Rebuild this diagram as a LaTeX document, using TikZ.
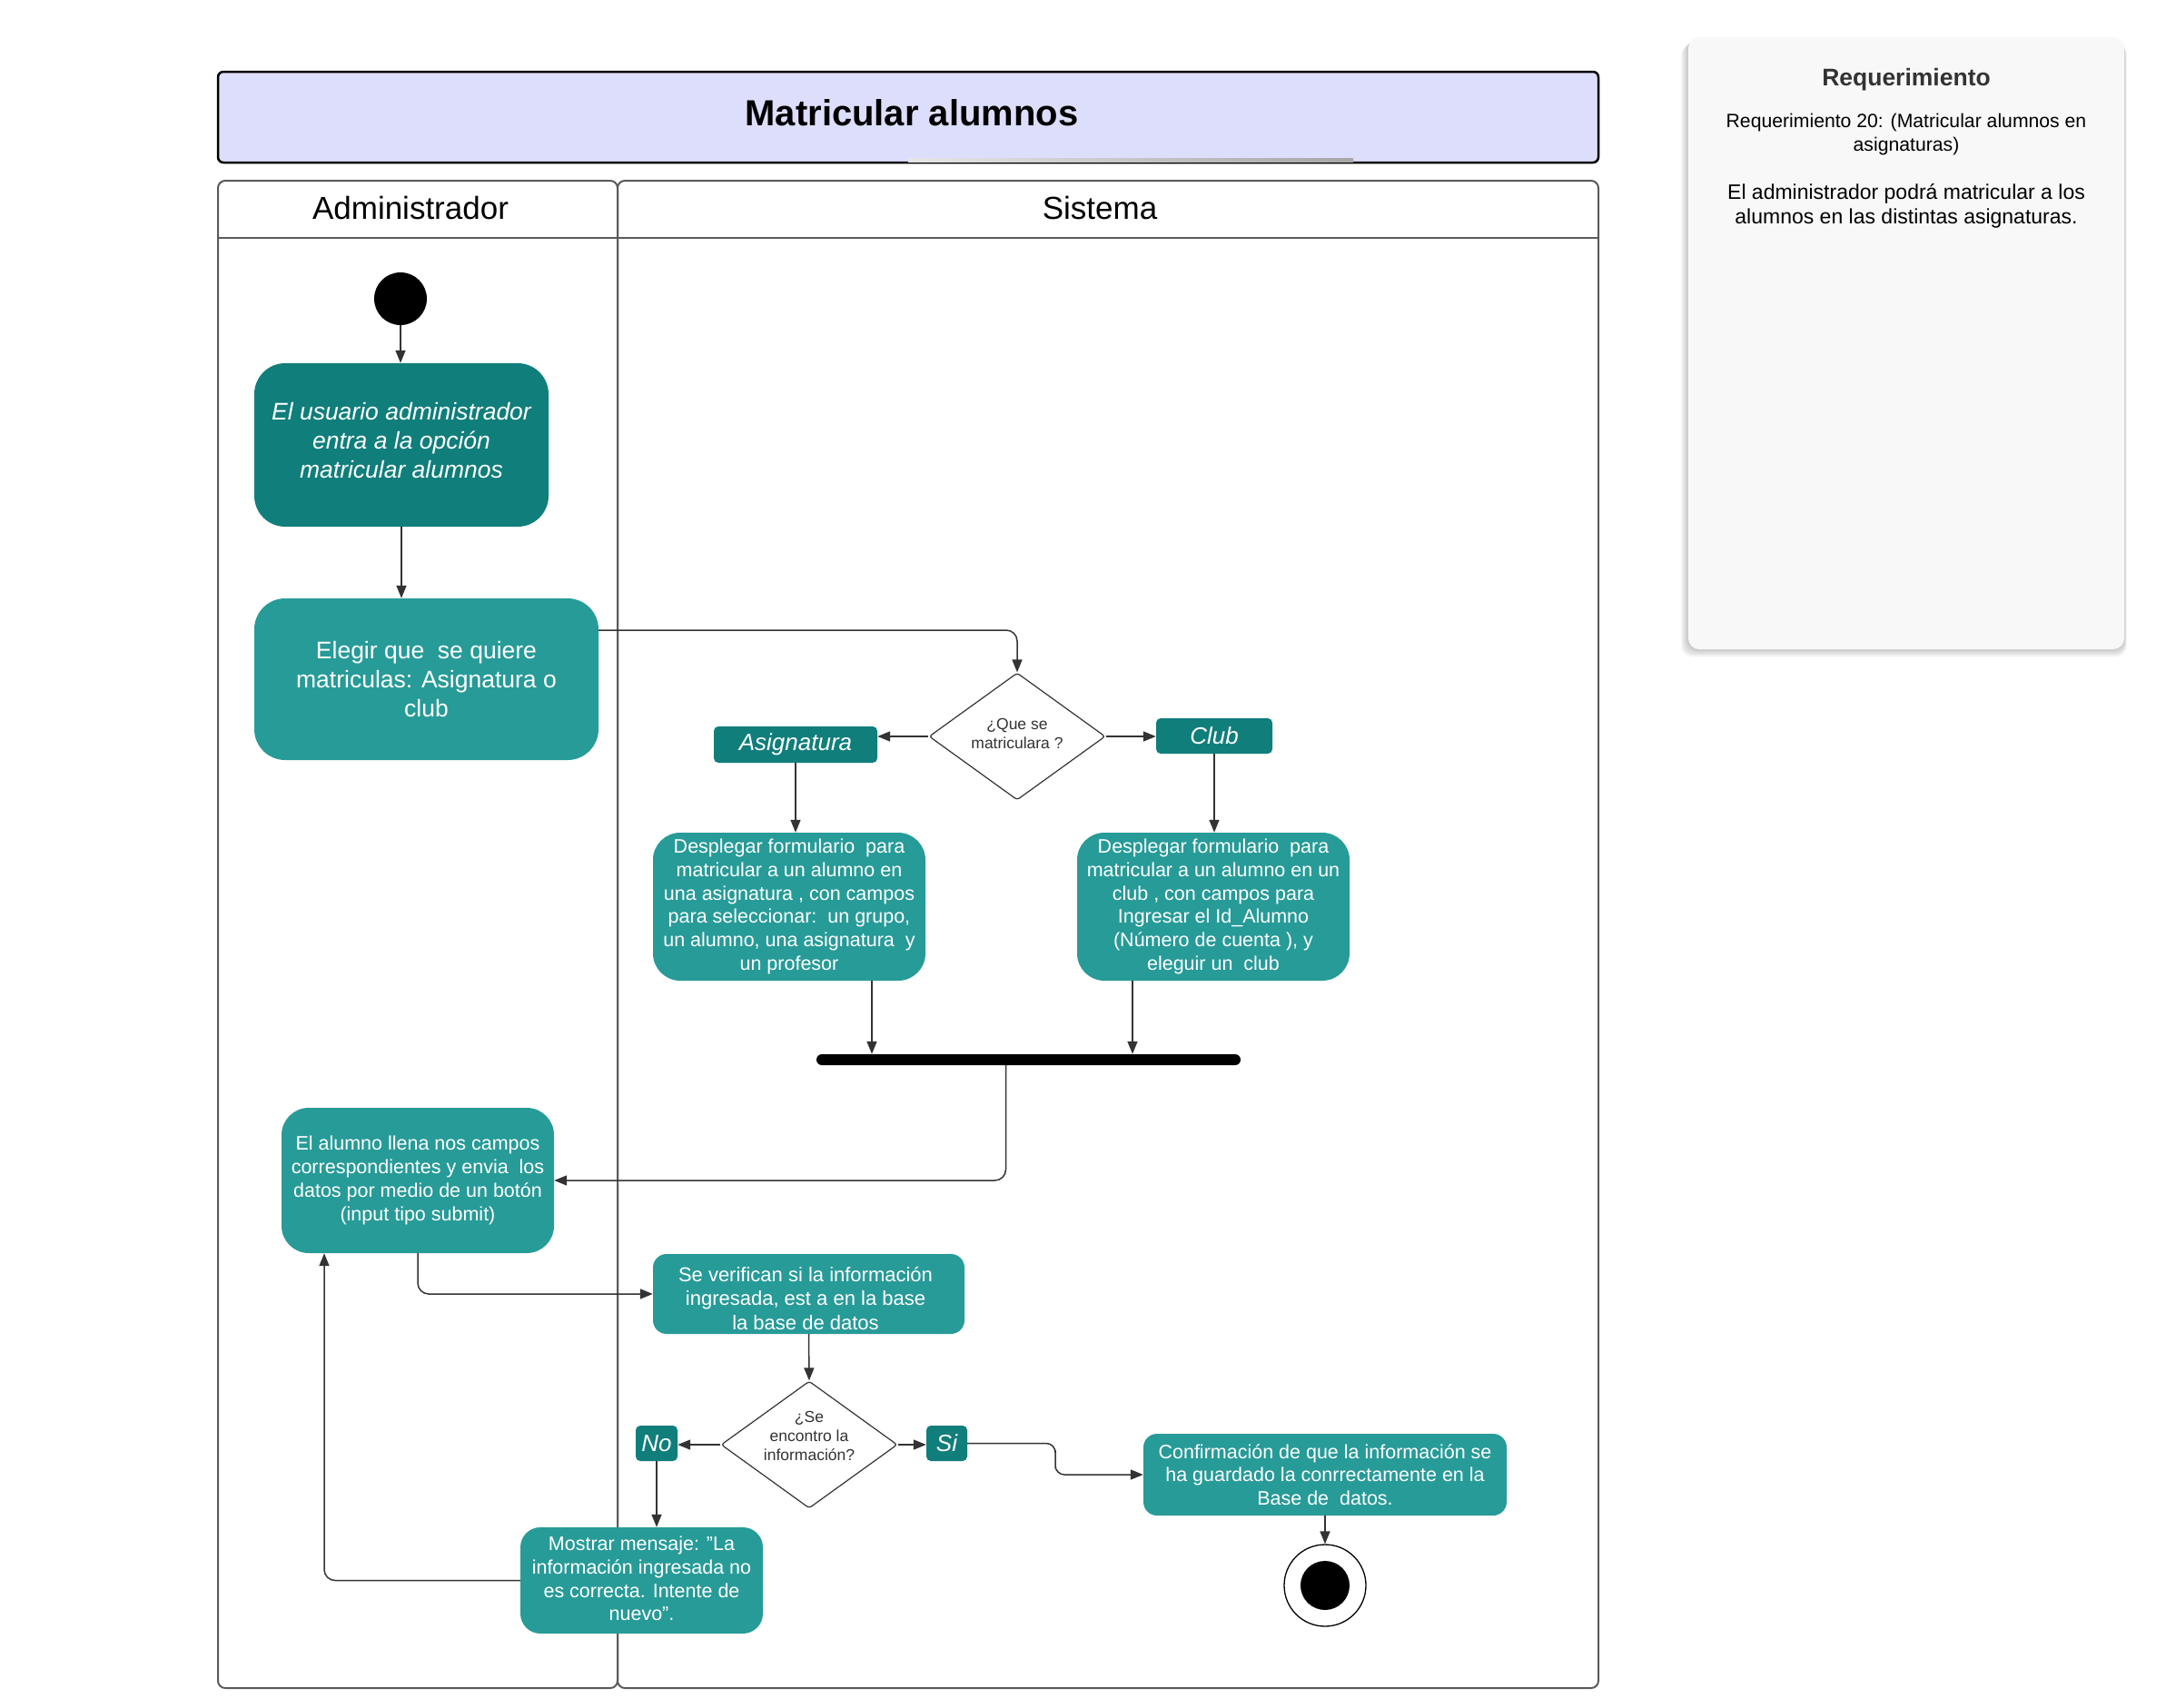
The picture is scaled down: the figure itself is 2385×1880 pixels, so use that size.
\documentclass[tikz,border=0pt]{standalone}
\usepackage{fontspec}
\setmainfont{Liberation Sans}
\usetikzlibrary{shapes.geometric,arrows.meta,calc}

\definecolor{tealdark}{RGB}{16,126,123}
\definecolor{teallight}{RGB}{39,155,152}
\definecolor{lavender}{RGB}{221,222,252}
\definecolor{wire}{RGB}{51,51,51}
\definecolor{lanegray}{RGB}{90,90,90}
\definecolor{panelbg}{RGB}{248,248,248}

\newcommand\pxfont[2]{\fontsize{#1}{#2}\selectfont}

\begin{document}
\begin{tikzpicture}[x=1pt,y=-1pt,
  actdark/.style={fill=tealdark, text=white, align=center, inner sep=0pt},
  actlight/.style={fill=teallight, text=white, align=center, inner sep=0pt},
  boxtext/.style={text=white, align=center, inner sep=0pt},
  smalltext/.style={font=\pxfont{21.5}{25.8}},
  tag/.style={fill=tealdark, text=white, rounded corners=5pt, inner sep=0pt,
    font=\pxfont{26}{31}\itshape},
  decision/.style={diamond, draw=wire, line width=1.2pt, fill=white,
    minimum width=194pt, minimum height=140pt, inner sep=0pt, rounded corners=3pt},
  decisiontext/.style={align=center, text=wire, font=\pxfont{17.5}{21}},
  arr/.style={draw=wire, line width=1.5pt, -{Triangle[length=14pt,width=11pt]}},
  lane/.style={draw=lanegray, line width=2pt, rounded corners=8pt},
]
\useasboundingbox (0,0) rectangle (2385,1880);
\fill[white] (0,0) rectangle (2385,1880);

% ---------- title bar ----------
\node[draw=black, line width=2.5pt, fill=lavender, rounded corners=6pt,
  minimum width=1520pt, minimum height=100pt, inner sep=0pt] (title) at (1000,129) {};
\node[font=\pxfont{40}{48}\bfseries] (titletext) at (1004,124) {Matricular alumnos};
\shade[left color=gray!20, right color=gray!70] (1000,174) rectangle (1490,178);

% ---------- swimlanes ----------
\draw[lane] (240,199) rectangle (680,1859);
\draw[lane] (680,199) rectangle (1760,1859);
\draw[draw=lanegray, line width=1.5pt] (240,262) -- (1760,262);
\node[font=\pxfont{35}{42}] (hadmin) at (452,229) {Administrador};
\node[font=\pxfont{35}{42}] (hsys) at (1211,229) {Sistema};

% ---------- requirement panel ----------
\foreach \s in {2,4,6,8}
  \fill[black, opacity=0.05, rounded corners=12pt] (1859-\s,41+\s) rectangle (2339+\s/3,715+\s);
\node[fill=panelbg, rounded corners=12pt, minimum width=480pt, minimum height=674pt,
  inner sep=0pt] (req) at (2099,378) {};
\node[font=\pxfont{26.5}{32}\bfseries, text=wire] (reqtitle) at (2099,88) {Requerimiento};
\node[font=\pxfont{21.2}{26}, align=center] (reqid) at (2099,148)
  {Requerimiento 20: (Matricular alumnos en\\asignaturas)};
\node[font=\pxfont{23}{27}, align=center] (reqdesc) at (2099,226.5)
  {El administrador podrá matricular a los\\alumnos en las distintas asignaturas.};

% ---------- activity nodes ----------
\node[circle, fill=black, minimum size=58pt, inner sep=0pt] (start) at (441,329) {};

\node[actdark, rounded corners=34pt, minimum width=324pt, minimum height=180pt] (enter) at (442,490) {};
\node[boxtext, font=\pxfont{26.5}{32}\itshape] (entertext) at (442,485.5)
  {El usuario administrador\\entra a la opción\\matricular alumnos};

\node[actlight, rounded corners=34pt, minimum width=379pt, minimum height=178pt,
  font=\pxfont{26.5}{32}] (choose) at (469.5,748)
  {Elegir que\ \ se quiere\\matriculas: Asignatura o\\club};

\node[decision] (q1) at (1120,811) {};
\node[decisiontext] (q1text) at (1120,808) {¿Que se\\matriculara ?};

\node[tag, minimum width=180pt, minimum height=40pt] (asig) at (876,820) {Asignatura};
\node[tag, minimum width=128pt, minimum height=39pt] (club) at (1337,810.5) {Club};

\node[actlight, smalltext, rounded corners=30pt, minimum width=300pt, minimum height=163pt]
  (d1) at (869,998.5)
  {Desplegar formulario\ \ para\\matricular a un alumno en\\una asignatura , con campos\\para seleccionar:\ \ un grupo,\\un alumno, una asignatura\ \ y\\un profesor};

\node[actlight, smalltext, rounded corners=30pt, minimum width=300pt, minimum height=163pt]
  (d2) at (1336,998.5)
  {Desplegar formulario\ \ para\\matricular a un alumno en un\\club , con campos para\\Ingresar el Id\_Alumno\\(Número de cuenta ), y\\eleguir un\ \ club};

\node[fill=black, rounded corners=6pt, minimum width=467pt, minimum height=12pt,
  inner sep=0pt] (join) at (1132.5,1167) {};

\node[actlight, smalltext, rounded corners=30pt, minimum width=300pt, minimum height=160pt]
  (alumno) at (460,1300)
  {El alumno llena nos campos\\correspondientes y envia\ \ los\\datos por medio de un botón\\(input tipo submit)};

\node[actlight, rounded corners=15pt, minimum width=343pt, minimum height=88pt] (verif) at (890.5,1425) {};
\node[boxtext, font=\pxfont{22}{26.5}] (veriftext) at (887,1429.5)
  {Se verifican si la información\\ingresada, est a en la base\\la base de datos};

\node[decision] (q2) at (891,1591) {};
\node[decisiontext] (q2text) at (891,1581) {¿Se\\encontro la\\información?};

\node[tag, minimum width=46pt, minimum height=39pt] (no) at (723,1589.5) {No};
\node[tag, minimum width=45pt, minimum height=39pt] (si) at (1042.5,1589.5) {Si};

\node[actlight, smalltext, rounded corners=15pt, minimum width=400pt, minimum height=90pt]
  (conf) at (1459,1624)
  {Confirmación de que la información se\\ha guardado la conrrectamente en la\\Base de\ \ datos.};

\node[actlight, rounded corners=22pt, minimum width=267pt, minimum height=117pt]
  (mostrar) at (706.5,1740.5) {};
\node[boxtext, smalltext] (mostrartext) at (706.5,1738.5)
  {Mostrar mensaje: "La\\información ingresada no\\es correcta. Intente de\\nuevo".};

\node[circle, draw=black, line width=1.3pt, fill=white, minimum size=90pt, inner sep=0pt]
  (stop) at (1459,1746) {};
\node[circle, fill=black, minimum size=54pt, inner sep=0pt] (stopdot) at (stop) {};

% ---------- connectors ----------
\coordinate (chooseout) at ([yshift=54pt]choose.east);
\coordinate (d1out) at ([xshift=91pt]d1.south);
\coordinate (d2out) at ([xshift=-89pt]d2.south);
\coordinate (joinout) at ([xshift=-25pt]join.south);
\coordinate (jog) at (1162,1607);
\coordinate (retry) at ([xshift=-103pt]alumno.south);

\draw[arr] (start.south) -- (start.south |- enter.north);
\draw[arr] (enter.south) -- (enter.south |- choose.north);
\draw[arr, rounded corners=12pt] (chooseout) -| (q1.north);
\draw[arr] (q1.west) -- (q1.west -| asig.east);
\draw[arr] (q1.east) -- (q1.east -| club.west);
\draw[arr] (asig.south) -- (asig.south |- d1.north);
\draw[arr] (club.south) -- (club.south |- d2.north);
\draw[arr] (d1out) -- (d1out |- join.north);
\draw[arr] (d2out) -- (d2out |- join.north);
\draw[arr, rounded corners=12pt] (joinout) |- (alumno.east);
\draw[arr, rounded corners=12pt] (alumno.south) |- (verif.west);
\draw[arr] (verif.south) -- (q2.north);
\draw[arr] (q2.west) -- (q2.west -| no.east);
\draw[arr] (q2.east) -- (q2.east -| si.west);
\draw[arr, rounded corners=10pt] (si.east) -| (jog) |- (conf.west);
\draw[arr] (conf.south) -- (stop.north);
\draw[arr] (no.south) -- (no.south |- mostrar.north);
\draw[arr, rounded corners=12pt] (mostrar.west) -| (retry);
\end{tikzpicture}
\end{document}
